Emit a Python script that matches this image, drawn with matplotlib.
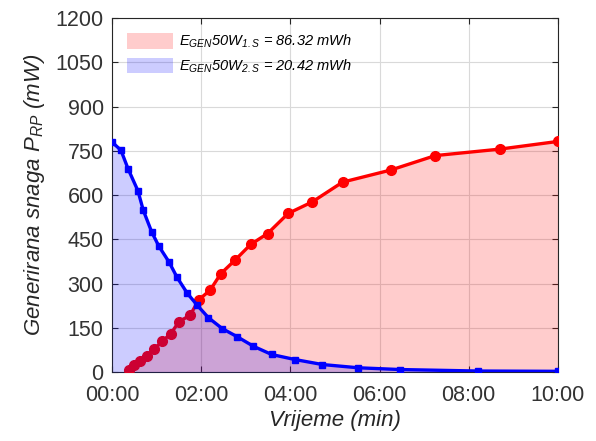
import matplotlib
matplotlib.use("Agg")
import matplotlib.pyplot as plt
from matplotlib.patches import Patch
import numpy as np

# vrijeme u minutama
t_red = [0.37, 0.5, 0.63, 0.78, 0.93, 1.13, 1.32, 1.50, 1.75, 1.95, 2.20,
         2.44, 2.76, 3.11, 3.49, 3.95, 4.49, 5.17, 6.25, 7.25, 8.70, 10.0]
p_red = [9, 24, 38, 54, 77, 105, 131, 171, 193, 246, 278,
         334, 380, 433, 470, 538, 577, 644, 685, 734, 756, 782]

t_blue = [0, 0.2, 0.36, 0.58, 0.70, 0.89, 1.05, 1.28, 1.46, 1.69, 1.91,
          2.16, 2.47, 2.81, 3.17, 3.58, 4.10, 4.72, 5.52, 6.47, 8.2, 10.0]
p_blue = [780, 752, 689, 615, 549, 475, 427, 373, 321, 267, 227,
          185, 148, 120, 88, 60, 43, 26, 15, 9, 4, 3]

x_ticks = [0, 2, 4, 6, 8, 10]
x_labels = ["00:00", "02:00", "04:00", "06:00", "08:00", "10:00"]
y_ticks = list(range(0, 1201, 150))

leg_labels = [r"$E_{GEN}$50W$_{1.S}$ = 86.32 mWh",
              r"$E_{GEN}$50W$_{2.S}$ = 20.42 mWh"]

plt.rcParams["font.family"] = ["Liberation Sans", "DejaVu Sans"]
plt.rcParams["mathtext.fontset"] = "custom"
plt.rcParams["mathtext.rm"] = "Liberation Sans:italic"
plt.rcParams["mathtext.it"] = "Liberation Sans:italic"

fig = plt.figure(figsize=(5.96, 4.41), dpi=100)
ax = fig.add_axes([0.188, 0.156, 0.748, 0.803])

ax.fill_between(t_red, p_red, 0, color=(1, 0, 0), alpha=0.2, lw=0, zorder=2)
ax.plot(t_red, p_red, "-o", color=(1, 0, 0), lw=2.4, ms=7, zorder=3)
ax.fill_between(t_blue, p_blue, 0, color=(0, 0, 1), alpha=0.2, lw=0, zorder=4)
ax.plot(t_blue, p_blue, "-s", color=(0, 0, 1), lw=2.4, ms=5, zorder=5)

ax.set_xlim(0, 10)
ax.set_ylim(0, 1200)
ax.set_xticks(x_ticks)
ax.set_xticklabels(x_labels)
ax.set_yticks(y_ticks)
ax.tick_params(direction="in", labelsize=15.5, colors="#262626",
               labelcolor="#333333", length=4, top=True, right=True)
ax.tick_params(axis="x", pad=9)
ax.tick_params(axis="y", pad=6)
ax.grid(True, color="#d9d9d9", lw=0.8, zorder=0)
ax.set_axisbelow(True)
for s in ax.spines.values():
    s.set_color("#262626")
    s.set_linewidth(0.8)

ax.set_xlabel("Vrijeme (min)", fontsize=16, style="italic", color="#262626",
              labelpad=3)
ax.set_ylabel(r"Generirana snaga $P_{RP}$ (mW)", fontsize=16, style="italic",
              color="#262626", labelpad=6)

handles = [Patch(facecolor=(1, 0, 0, 0.2), edgecolor="none"),
           Patch(facecolor=(0, 0, 1, 0.2), edgecolor="none")]
leg = ax.legend(handles, leg_labels, loc="upper left", frameon=False,
                fontsize=10.5, handlelength=3.2, handleheight=1.3,
                labelspacing=0.5, borderaxespad=0.6, handletextpad=0.4)
for txt in leg.get_texts():
    txt.set_style("italic")

fig.savefig("out.png", dpi=100)
